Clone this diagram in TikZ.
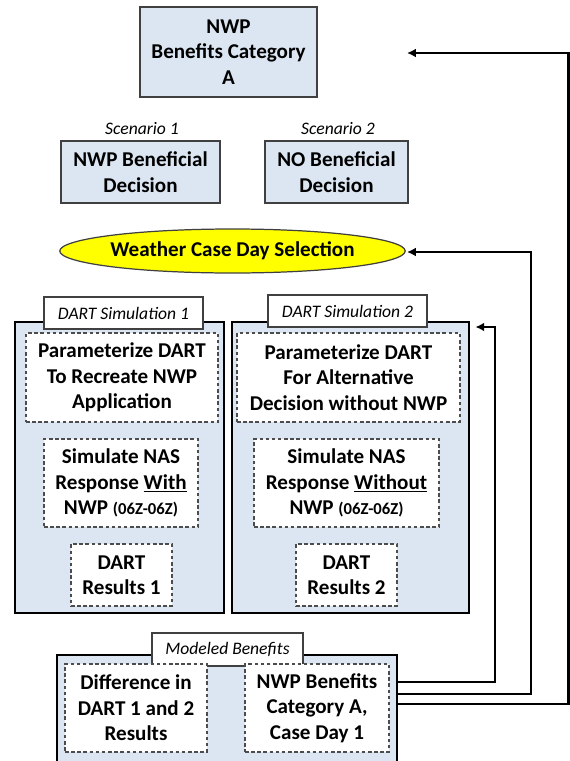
\documentclass[tikz,border=0pt]{standalone}
\usepackage{fontspec}
\setmainfont{Carlito}
\usetikzlibrary{arrows.meta,shapes.geometric}
\definecolor{boxblue}{RGB}{220,230,242}
\definecolor{caseyellow}{RGB}{255,255,0}

\begin{document}
\begin{tikzpicture}[x=0.02cm, y=-0.02cm,
  every node/.style={font=\fontsize{12}{14.5}\selectfont\bfseries, align=center, inner sep=0pt},
  bluebox/.style={draw=black!75, line width=0.7pt, fill=boxblue},
  simbox/.style={draw=black, line width=1.3pt, fill=boxblue},
  dashbox/.style={draw=black!70, line width=0.6pt, dash pattern=on 2pt off 1.5pt, fill=white},
  tag/.style={font=\fontsize{10}{12}\selectfont\itshape},
  tagbox/.style={tag, draw=black!75, line width=0.6pt, fill=white},
  flow/.style={draw=black, line width=1.2pt, -{Latex[length=5pt,width=5pt]}}]
% Fix the page to the size of the original
\useasboundingbox (0,0) rectangle (570,761);

% Benefit category and the two scenarios
\node[bluebox, minimum width=3.54cm, minimum height=1.8cm] (nwpA) at (228.5,52) {NWP\\Benefits Category\\A};
\node[tag] (scenlabA) at (142,129) {Scenario 1};
\node[tag] (scenlabB) at (338,129) {Scenario 2};
\node[bluebox, minimum width=3.18cm, minimum height=1.24cm] (scenA) at (140.5,172) {NWP Beneficial\\Decision};
\node[bluebox, minimum width=2.86cm, minimum height=1.24cm] (scenB) at (336.5,172) {NO Beneficial\\Decision};

% Case day selection
\node[ellipse, draw=black!75, line width=0.7pt, fill=caseyellow, minimum width=6.18cm, minimum height=0.88cm] (weather) at (232.5,251) {Weather Case Day Selection};

% DART simulation 1
\node[simbox, minimum width=4.18cm, minimum height=5.82cm] (simA) at (119.5,467.5) {};
\node[tagbox, minimum width=3.18cm, minimum height=0.64cm] (simtagA) at (123.5,313) {DART Simulation 1};
\node[dashbox, minimum width=3.84cm, minimum height=1.78cm] (paramA) at (122,377.5) {Parameterize DART\\To Recreate NWP\\Application};
\node[dashbox, minimum width=3.08cm, minimum height=1.76cm] (nasA) at (121,483) {Simulate NAS\\Response \underline{With}\\NWP {\fontsize{9.5}{12}\selectfont(06Z-06Z)}};
\node[dashbox, minimum width=2.02cm, minimum height=1.24cm] (resA) at (121.5,575) {DART\\Results 1};

% DART simulation 2
\node[simbox, minimum width=4.74cm, minimum height=5.82cm] (simB) at (350.5,467.5) {};
\node[tagbox, minimum width=3.18cm, minimum height=0.64cm] (simtagB) at (347.5,311) {DART Simulation 2};
\node[dashbox, minimum width=4.46cm, minimum height=1.78cm] (paramB) at (348.5,377.5) {Parameterize DART\\For Alternative\\Decision without NWP};
\node[dashbox, minimum width=3.7cm, minimum height=1.76cm] (nasB) at (346.5,483) {Simulate NAS\\Response \underline{Without}\\NWP {\fontsize{9.5}{12}\selectfont(06Z-06Z)}};
\node[dashbox, minimum width=2.02cm, minimum height=1.24cm] (resB) at (346.5,575) {DART\\Results 2};

% Modeled benefits
\node[simbox, minimum width=6.8cm, minimum height=2.7cm] (model) at (227,722.5) {};
\node[tagbox, minimum width=3.02cm, minimum height=0.66cm] (modeltag) at (227.5,649.5) {Modeled Benefits};
\node[dashbox, minimum width=2.84cm, minimum height=1.76cm] (diff) at (136,708) {Difference in\\DART 1 and 2\\Results};
\node[dashbox, minimum width=2.88cm, minimum height=1.76cm] (bene) at (317,708) {NWP Benefits\\Category A,\\Case Day 1};

% Feedback lines
\coordinate (tipW) at (407,252);
\coordinate (tipA) at (407,53);
\draw[flow, shorten >=3pt] (model.east |- 0,682) -| (495,327) -- (simB.east |- 0,327);
\draw[flow] (model.east |- 0,694) -| (531,252) -- (tipW);
\draw[flow] (model.east |- 0,704) -| (568.5,53) -- (tipA);
\end{tikzpicture}
\end{document}
